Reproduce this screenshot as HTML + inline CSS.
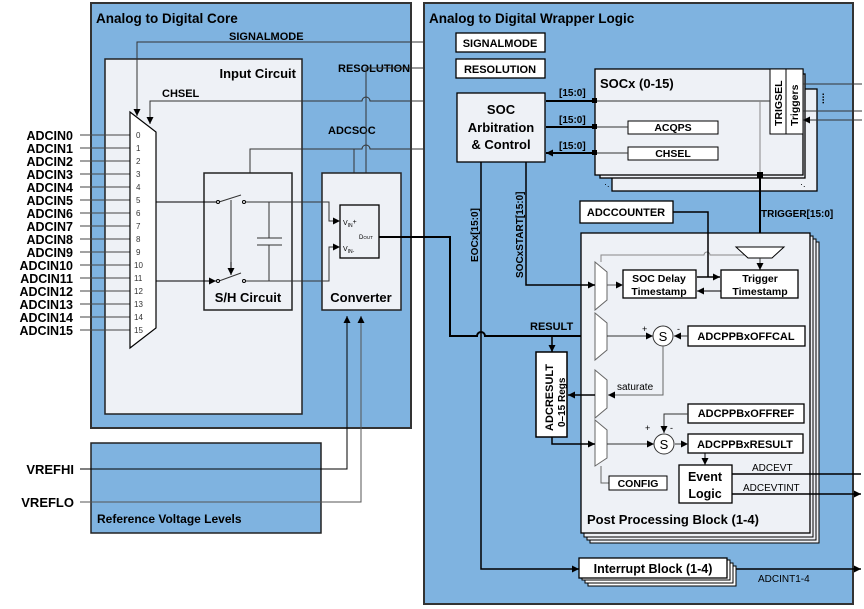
<!DOCTYPE html>
<html><head><meta charset="utf-8"><style>
html,body{margin:0;padding:0;background:#fff;}
svg{display:block;font-family:"Liberation Sans",Arial,sans-serif;}
.b{font-weight:bold;}
</style></head><body>
<svg width="864" height="609" viewBox="0 0 864 609" xmlns="http://www.w3.org/2000/svg">
<defs>
<marker id="a" viewBox="0 0 10 10" refX="10" refY="5" markerWidth="7" markerHeight="7" orient="auto-start-reverse" markerUnits="userSpaceOnUse"><path d="M0,0L10,5L0,10z" fill="#000"/></marker>
</defs>
<!-- Core -->
<rect x="91" y="3" width="320" height="425" fill="#7fb3e0" stroke="#333" stroke-width="2"/>
<text x="96" y="23" class="b" font-size="13.5">Analog to Digital Core</text>
<rect x="105" y="59" width="197" height="355" fill="#eef1f6" stroke="#222" stroke-width="1.5"/>
<text x="296" y="78" class="b" font-size="13" text-anchor="end">Input Circuit</text>
<text x="162" y="97" class="b" font-size="11">CHSEL</text>
<text x="229" y="40" class="b" font-size="11">SIGNALMODE</text>
<text x="338" y="72" class="b" font-size="11">RESOLUTION</text>
<text x="328" y="134" class="b" font-size="11">ADCSOC</text>
<!-- Reference -->
<rect x="91" y="443" width="230" height="90" fill="#7fb3e0" stroke="#222" stroke-width="1.5"/>
<text x="97" y="523" class="b" font-size="12">Reference Voltage Levels</text>
<g font-size="13" class="b" text-anchor="end">
<text x="74" y="474">VREFHI</text><text x="74" y="507">VREFLO</text>
</g>
<path d="M80,469H347V316" fill="none" stroke="#000" stroke-width="1" marker-end="url(#a)"/>
<path d="M80,502H361V316" fill="none" stroke="#555" stroke-width="1" marker-end="url(#a)"/>
<!-- ADCIN labels -->
<g font-size="12.5" class="b" text-anchor="end">
<text x="73" y="140">ADCIN0</text><text x="73" y="153">ADCIN1</text><text x="73" y="166">ADCIN2</text><text x="73" y="179">ADCIN3</text><text x="73" y="192">ADCIN4</text><text x="73" y="205">ADCIN5</text><text x="73" y="218">ADCIN6</text><text x="73" y="231">ADCIN7</text><text x="73" y="244">ADCIN8</text><text x="73" y="257">ADCIN9</text><text x="73" y="270">ADCIN10</text><text x="73" y="283">ADCIN11</text><text x="73" y="296">ADCIN12</text><text x="73" y="309">ADCIN13</text><text x="73" y="322">ADCIN14</text><text x="73" y="335">ADCIN15</text>
</g>
<g stroke="#444" stroke-width="1">
<path d="M80,135H130M80,148H130M80,161H130M80,174H130M80,187H130M80,200H130M80,213H130M80,226H130M80,239H130M80,252H130M80,265H130M80,278H130M80,291H130M80,304H130M80,317H130M80,330H130"/>
</g>
<polygon points="130,112 156,132 156,328 130,348" fill="#fff" stroke="#000" stroke-width="1.2"/>
<g font-size="8" fill="#333">
<text x="136" y="138">0</text><text x="136" y="151">1</text><text x="136" y="164">2</text><text x="136" y="177">3</text><text x="136" y="190">4</text><text x="136" y="203">5</text><text x="136" y="216">6</text><text x="136" y="229">7</text><text x="136" y="242">8</text><text x="136" y="255">9</text><text x="134" y="268">10</text><text x="134" y="281">11</text><text x="134" y="294">12</text><text x="134" y="307">13</text><text x="134" y="320">14</text><text x="134" y="333">15</text>
</g>
<!-- signal lines from wrapper -->
<path d="M456,42H137V116" fill="none" stroke="#333" marker-end="url(#a)"/>
<path d="M456,68H366V203" fill="none" stroke="#333" marker-end="url(#a)"/>
<path d="M457,101H370a3,3 0 0 0 -8,0H150V124" fill="none" stroke="#333" marker-end="url(#a)"/>
<path d="M457,149H370a3,3 0 0 0 -8,0H250V173" fill="none" stroke="#333"/>
<path d="M354,149V203" fill="none" stroke="#333" marker-end="url(#a)"/>
<!-- S/H -->
<rect x="204" y="173" width="88" height="137" fill="#eef1f6" stroke="#222" stroke-width="1.5"/>
<text x="248" y="302" class="b" font-size="13" text-anchor="middle">S/H Circuit</text>
<path d="M156,202H216M156,281H216" stroke="#000" marker-end="url(#a)"/>
<path d="M219,202L241,195M219,281L241,273M231,200V274" stroke="#333" fill="none"/>
<path d="M231,262V275" stroke="#000" marker-end="url(#a)"/>
<circle cx="218" cy="202" r="1.5" fill="#fff" stroke="#000"/><circle cx="244" cy="202" r="1.5" fill="#fff" stroke="#000"/>
<circle cx="218" cy="281" r="1.5" fill="#fff" stroke="#000"/><circle cx="244" cy="281" r="1.5" fill="#fff" stroke="#000"/>
<path d="M246,202H269V238M246,281H269V245M257,238H282M257,245H282" stroke="#333" fill="none"/>
<!-- Converter -->
<rect x="322" y="173" width="79" height="137" fill="#eef1f6" stroke="#222" stroke-width="1.5"/>
<text x="361" y="302" class="b" font-size="13" text-anchor="middle">Converter</text>
<rect x="340" y="205" width="39" height="53" fill="#eef1f6" stroke="#000" stroke-width="1.3"/>
<text x="343" y="225" font-size="7">V<tspan font-size="5" dy="2">IN</tspan><tspan dy="-3">+</tspan></text>
<text x="343" y="251" font-size="7">V<tspan font-size="5" dy="2">IN-</tspan></text>
<text x="359" y="239" font-size="6">D<tspan font-size="4.5">OUT</tspan></text>
<path d="M269,202H329V221H340" fill="none" stroke="#333" marker-end="url(#a)"/>
<path d="M269,281H329V247H340" fill="none" stroke="#333" marker-end="url(#a)"/>
<!-- Wrapper -->
<rect x="424" y="3" width="429" height="601" fill="#7fb3e0" stroke="#333" stroke-width="2"/>
<text x="429" y="23" class="b" font-size="13.5">Analog to Digital Wrapper Logic</text>
<rect x="456" y="33" width="89" height="19" fill="#fff" stroke="#000" stroke-width="1.3"/>
<text x="500" y="47" class="b" font-size="11" text-anchor="middle">SIGNALMODE</text>
<rect x="456" y="59" width="89" height="19" fill="#fff" stroke="#000" stroke-width="1.3"/>
<text x="500" y="73" class="b" font-size="11" text-anchor="middle">RESOLUTION</text>
<rect x="457" y="93" width="88" height="69" fill="#eef1f6" stroke="#000" stroke-width="1.3"/>
<g class="b" font-size="13" text-anchor="middle"><text x="501" y="114">SOC</text><text x="501" y="132">Arbitration</text><text x="501" y="149">&amp; Control</text></g>
<!-- DOUT line -->
<path d="M379,237H450V336H477a4,4 0 0 1 8,0H595" fill="none" stroke="#000" stroke-width="2" marker-end="url(#a)"/>
<!-- SOCx stack -->
<rect x="612" y="89" width="205" height="102" fill="#eef1f6" stroke="#000" stroke-width="1.3"/>
<rect x="600" y="74" width="205" height="104" fill="#eef1f6" stroke="#000" stroke-width="1.3"/>
<rect x="595" y="69" width="208" height="106" fill="#eef1f6" stroke="#000" stroke-width="1.3"/>
<text x="600" y="88" class="b" font-size="13">SOCx (0-15)</text>
<rect x="770" y="69" width="16" height="65" fill="#fff" stroke="#000"/>
<rect x="786" y="69" width="17" height="65" fill="#fff" stroke="#000"/>
<text transform="translate(782,126) rotate(-90)" class="b" font-size="10.5">TRIGSEL</text>
<text transform="translate(798,126) rotate(-90)" class="b" font-size="10.5">Triggers</text>
<text x="604" y="187" font-size="9">·.</text><text x="800" y="187" font-size="9">·.</text>
<text transform="translate(824,104) rotate(-90)" font-size="10" class="b">....</text>
<path d="M862,84H803M862,111H803M862,120H803" stroke="#333" marker-end="url(#a)"/>
<rect x="628" y="121" width="90" height="13" fill="#fff" stroke="#000"/>
<text x="673" y="131" class="b" font-size="10.5" text-anchor="middle">ACQPS</text>
<rect x="628" y="147" width="90" height="13" fill="#fff" stroke="#000"/>
<text x="673" y="157" class="b" font-size="10.5" text-anchor="middle">CHSEL</text>
<path d="M770,101H595M628,127H595M628,153H595" stroke="#333"/>
<path d="M595,101H546M595,127H546M595,153H546" stroke="#000" stroke-width="2" marker-end="url(#a)"/>
<rect x="592" y="98" width="5" height="5"/><rect x="592" y="124" width="5" height="5"/><rect x="592" y="150" width="5" height="5"/>
<g class="b" font-size="10"><text x="559" y="96">[15:0]</text><text x="559" y="123">[15:0]</text><text x="559" y="149">[15:0]</text></g>
<path d="M760,101V175" stroke="#888"/>
<rect x="757" y="172" width="6" height="6"/>
<path d="M760,175V243" stroke="#000" stroke-width="2" marker-end="url(#a)"/>
<text x="761" y="217" class="b" font-size="10">TRIGGER[15:0]</text>
<rect x="580" y="201" width="93" height="22" fill="#fff" stroke="#000" stroke-width="1.3"/>
<text x="626" y="216" class="b" font-size="11" text-anchor="middle">ADCCOUNTER</text>
<!-- PPB stack -->
<rect x="590" y="242" width="229" height="301" fill="#eef1f6" stroke="#000"/>
<rect x="587" y="239" width="229" height="301" fill="#eef1f6" stroke="#000"/>
<rect x="584" y="236" width="229" height="301" fill="#eef1f6" stroke="#000"/>
<rect x="581" y="233" width="229" height="300" fill="#eef1f6" stroke="#000" stroke-width="1.3"/>
<text x="587" y="524" class="b" font-size="13">Post Processing Block (1-4)</text>
<path d="M601,262V255H704a3,3 0 0 1 6,0H748" fill="none" stroke="#888"/>
<polygon points="736,247 784,247 772,258 748,258" fill="#fff" stroke="#000"/>
<path d="M760,258V270" stroke="#333" marker-end="url(#a)"/>
<rect x="623" y="270" width="73" height="28" fill="#fff" stroke="#000" stroke-width="1.3"/>
<g class="b" font-size="10.5" text-anchor="middle"><text x="659" y="282">SOC Delay</text><text x="659" y="295">Timestamp</text></g>
<rect x="721" y="270" width="77" height="28" fill="#fff" stroke="#000" stroke-width="1.3"/>
<g class="b" font-size="10.5" text-anchor="middle"><text x="760" y="282">Trigger</text><text x="760" y="295">Timestamp</text></g>
<path d="M673,212H708V277" fill="none" stroke="#000" stroke-width="1.5"/>
<path d="M708,277H697M708,277H720" stroke="#000" stroke-width="1.5" marker-end="url(#a)"/>
<path d="M721,291H697" stroke="#000" marker-end="url(#a)"/>
<!-- muxes -->
<g fill="#fff" stroke="#666">
<polygon points="595,262 607,272 607,300 595,310"/>
<polygon points="595,313 607,323 607,350 595,360"/>
<polygon points="595,370 607,380 607,408 595,418"/>
<polygon points="595,420 607,430 607,458 595,466"/>
</g>
<path d="M526,162V285H595" fill="none" stroke="#000" stroke-width="1.5" marker-end="url(#a)"/>
<path d="M481,162V569H579" fill="none" stroke="#000" stroke-width="1.5" marker-end="url(#a)"/>
<text transform="translate(478,262) rotate(-90)" class="b" font-size="10">EOCx[15:0]</text>
<text transform="translate(523,278) rotate(-90)" class="b" font-size="10">SOCxSTART[15:0]</text>
<path d="M607,285H623" stroke="#555" marker-end="url(#a)"/>
<text x="530" y="330" class="b" font-size="11">RESULT</text>
<path d="M552,336V352" stroke="#000" stroke-width="1.5" marker-end="url(#a)"/>
<rect x="536" y="352" width="31" height="85" fill="#fff" stroke="#000" stroke-width="1.5"/>
<text transform="translate(553,431) rotate(-90)" class="b" font-size="11">ADCRESULT</text>
<text transform="translate(565,427) rotate(-90)" class="b" font-size="10">0–15 Regs</text>
<path d="M595,395H568" stroke="#000" stroke-width="1.5" marker-end="url(#a)"/>
<path d="M552,437V444H595" fill="none" stroke="#000" stroke-width="1.5" marker-end="url(#a)"/>
<path d="M607,336H653" stroke="#333" marker-end="url(#a)"/>
<circle cx="663" cy="336" r="10" fill="#fff" stroke="#333"/><text x="663" y="341" font-size="13" text-anchor="middle">S</text>
<text x="642" y="332" font-size="9">+</text><text x="677" y="332" font-size="9">-</text>
<rect x="688" y="326" width="117" height="20" fill="#fff" stroke="#000" stroke-width="1.3"/>
<text x="746" y="340" class="b" font-size="11" text-anchor="middle">ADCPPBxOFFCAL</text>
<path d="M688,336H674" stroke="#333" marker-end="url(#a)"/>
<path d="M663,346V395H608" fill="none" stroke="#666" marker-end="url(#a)"/>
<text x="617" y="390" font-size="10">saturate</text>
<path d="M607,444H654" stroke="#333" marker-end="url(#a)"/>
<circle cx="664" cy="444" r="10" fill="#fff" stroke="#333"/><text x="664" y="449" font-size="13" text-anchor="middle">S</text>
<text x="645" y="431" font-size="9">+</text><text x="670" y="431" font-size="9">-</text>
<rect x="688" y="404" width="116" height="19" fill="#fff" stroke="#000" stroke-width="1.3"/>
<text x="746" y="417" class="b" font-size="11" text-anchor="middle">ADCPPBxOFFREF</text>
<path d="M688,414H664V433" fill="none" stroke="#333" marker-end="url(#a)"/>
<rect x="688" y="434" width="115" height="19" fill="#fff" stroke="#000" stroke-width="1.3"/>
<text x="745" y="448" class="b" font-size="11" text-anchor="middle">ADCPPBxRESULT</text>
<path d="M675,444H688" stroke="#333" marker-end="url(#a)"/>
<path d="M705,453V465" stroke="#000" marker-end="url(#a)"/>
<rect x="679" y="465" width="53" height="38" fill="#fff" stroke="#000" stroke-width="1.3"/>
<g class="b" font-size="12.5" text-anchor="middle"><text x="705" y="481">Event</text><text x="705" y="498">Logic</text></g>
<path d="M601,466V483H609" fill="none" stroke="#666"/>
<rect x="609" y="476" width="58" height="14" fill="#fff" stroke="#000"/>
<text x="638" y="487" class="b" font-size="10.5" text-anchor="middle">CONFIG</text>
<path d="M732,474H861M732,494H861" stroke="#000" stroke-width="1.5" marker-end="url(#a)"/>
<text x="752" y="471" font-size="10">ADCEVT</text><text x="743" y="491" font-size="10">ADCEVTINT</text>
<!-- interrupt -->
<rect x="588" y="566" width="148" height="20" fill="#fff" stroke="#000"/>
<rect x="585" y="563" width="148" height="20" fill="#fff" stroke="#000"/>
<rect x="582" y="560" width="148" height="20" fill="#fff" stroke="#000"/>
<rect x="579" y="558" width="148" height="20" fill="#fff" stroke="#000" stroke-width="1.3"/>
<text x="653" y="573" class="b" font-size="12.5" text-anchor="middle">Interrupt Block (1-4)</text>
<path d="M736,569H861" stroke="#000" stroke-width="1.5" marker-end="url(#a)"/>
<text x="758" y="582" font-size="10">ADCINT1-4</text>
</svg>
</body></html>
